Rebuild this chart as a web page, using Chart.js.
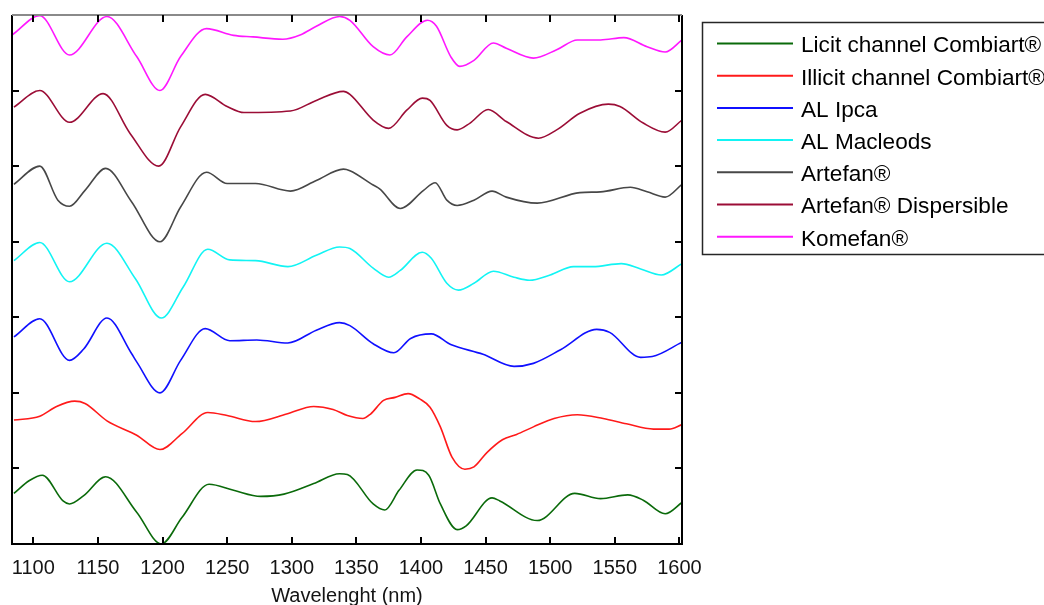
<!DOCTYPE html>
<html>
<head>
<meta charset="utf-8">
<script src="https://cdn.jsdelivr.net/npm/chart.js@4"></script>
<style>
html, body { margin: 0; padding: 0; background: #fff; }
</style>
</head>
<body>
<canvas id="spectra" width="1044" height="605"></canvas>
<script>
// NIR spectra (offset for display), one pair of arrays per sample
const wavelengthTicks = [1100, 1150, 1200, 1250, 1300, 1350, 1400, 1450, 1500, 1550, 1600];
const offsetTicks = [1, 2, 3, 4, 5, 6];

const licitWl = [1085, 1097, 1107, 1123, 1128, 1139, 1156, 1180, 1199, 1215, 1236, 1255, 1276, 1294, 1317, 1337, 1343, 1363, 1372, 1383, 1397, 1406, 1415, 1428, 1435, 1455, 1461, 1490, 1519, 1539, 1560, 1572, 1589, 1602];
const licitAbs = [0.67, 0.84, 0.91, 0.57, 0.53, 0.64, 0.89, 0.42, 0.00, 0.35, 0.79, 0.71, 0.63, 0.66, 0.80, 0.93, 0.92, 0.53, 0.45, 0.71, 0.98, 0.91, 0.53, 0.19, 0.24, 0.61, 0.57, 0.31, 0.67, 0.60, 0.65, 0.58, 0.40, 0.55];

const illicitWl = [1085, 1105, 1118, 1132, 1140, 1157, 1180, 1198, 1215, 1235, 1250, 1272, 1296, 1317, 1332, 1343, 1355, 1361, 1371, 1380, 1390, 1399, 1407, 1415, 1424, 1434, 1441, 1451, 1463, 1474, 1487, 1503, 1521, 1541, 1559, 1580, 1592, 1602];
const illicitAbs = [1.64, 1.69, 1.82, 1.89, 1.86, 1.63, 1.44, 1.25, 1.46, 1.74, 1.70, 1.62, 1.72, 1.82, 1.78, 1.70, 1.66, 1.72, 1.90, 1.94, 1.99, 1.92, 1.81, 1.55, 1.15, 0.99, 1.02, 1.21, 1.38, 1.45, 1.55, 1.66, 1.71, 1.66, 1.59, 1.52, 1.52, 1.58];

const ipcaWl = [1085, 1105, 1128, 1139, 1157, 1176, 1180, 1198, 1214, 1233, 1252, 1273, 1297, 1319, 1337, 1345, 1363, 1379, 1392, 1408, 1423, 1448, 1472, 1487, 1508, 1536, 1546, 1570, 1579, 1602];
const ipcaAbs = [2.74, 2.98, 2.43, 2.58, 2.99, 2.52, 2.41, 2.00, 2.43, 2.85, 2.69, 2.70, 2.66, 2.83, 2.93, 2.89, 2.65, 2.53, 2.72, 2.78, 2.64, 2.51, 2.35, 2.39, 2.57, 2.84, 2.80, 2.47, 2.48, 2.67];

const macleodsWl = [1085, 1105, 1128, 1157, 1179, 1199, 1216, 1235, 1252, 1272, 1297, 1319, 1337, 1345, 1363, 1375, 1384, 1401, 1408, 1420, 1429, 1441, 1456, 1472, 1484, 1500, 1518, 1533, 1555, 1570, 1586, 1602];
const macleodsAbs = [3.75, 3.99, 3.47, 3.98, 3.51, 2.99, 3.40, 3.90, 3.76, 3.75, 3.67, 3.82, 3.93, 3.91, 3.65, 3.53, 3.62, 3.86, 3.78, 3.45, 3.36, 3.45, 3.61, 3.53, 3.49, 3.56, 3.67, 3.67, 3.71, 3.64, 3.56, 3.71];

const artefanWl = [1085, 1105, 1119, 1128, 1140, 1156, 1176, 1198, 1214, 1234, 1250, 1272, 1299, 1319, 1340, 1345, 1363, 1368, 1384, 1402, 1411, 1420, 1428, 1441, 1455, 1466, 1490, 1523, 1539, 1562, 1575, 1589, 1602];
const artefanAbs = [4.76, 5.00, 4.55, 4.47, 4.68, 4.97, 4.53, 4.00, 4.46, 4.92, 4.77, 4.77, 4.67, 4.81, 4.96, 4.94, 4.75, 4.70, 4.44, 4.68, 4.78, 4.55, 4.48, 4.55, 4.67, 4.59, 4.51, 4.65, 4.66, 4.72, 4.66, 4.59, 4.76];

const dispersibleWl = [1085, 1105, 1128, 1154, 1175, 1197, 1214, 1233, 1250, 1263, 1299, 1319, 1340, 1345, 1363, 1375, 1389, 1401, 1407, 1420, 1428, 1438, 1452, 1466, 1491, 1505, 1523, 1545, 1554, 1572, 1589, 1602];
const dispersibleAbs = [5.78, 6.00, 5.58, 5.96, 5.43, 5.00, 5.52, 5.95, 5.79, 5.71, 5.73, 5.87, 5.99, 5.95, 5.61, 5.50, 5.74, 5.90, 5.87, 5.54, 5.48, 5.57, 5.75, 5.59, 5.37, 5.48, 5.70, 5.82, 5.79, 5.57, 5.45, 5.61];

const komefanWl = [1084, 1105, 1128, 1157, 1180, 1198, 1214, 1234, 1255, 1270, 1293, 1307, 1319, 1337, 1345, 1363, 1376, 1389, 1405, 1412, 1423, 1430, 1441, 1456, 1466, 1487, 1505, 1521, 1539, 1557, 1575, 1589, 1602];
const komefanAbs = [6.74, 6.99, 6.47, 6.98, 6.45, 6.00, 6.45, 6.82, 6.73, 6.71, 6.68, 6.74, 6.85, 6.98, 6.93, 6.58, 6.47, 6.71, 6.93, 6.85, 6.45, 6.32, 6.40, 6.63, 6.56, 6.43, 6.54, 6.67, 6.67, 6.70, 6.58, 6.51, 6.67];

const FONT = '"Liberation Sans", Arial, sans-serif';

function toPoints(wl, abs) {
    return wl.map(function(w, i) { return { x: w, y: abs[i] }; });
}

function spectrum(label, color, wl, abs) {
    return {
        label: label,
        data: toPoints(wl, abs),
        borderColor: color,
        borderWidth: 1.6,
        pointRadius: 0,
        cubicInterpolationMode: 'monotone',
        fill: false
    };
}

// frame + inward tick marks on all four sides
const frameTicks = {
    id: 'frameTicks',
    afterDatasetsDraw(chart) {
        var ctx = chart.ctx, a = chart.chartArea, x = chart.scales.x, y = chart.scales.y;
        var len = 7;
        ctx.save();
        ctx.lineWidth = 2;
        ctx.strokeStyle = '#000';
        ctx.beginPath();
        ctx.moveTo(a.left, a.top);
        ctx.lineTo(a.left, a.bottom);
        ctx.lineTo(a.right, a.bottom);
        ctx.lineTo(a.right, a.top);
        ctx.stroke();
        ctx.strokeStyle = '#8a8a8a';
        ctx.beginPath();
        ctx.moveTo(a.left, a.top);
        ctx.lineTo(a.right, a.top);
        ctx.stroke();
        ctx.strokeStyle = '#000';
        ctx.beginPath();
        wavelengthTicks.forEach(function(v) {
            var px = Math.round(x.getPixelForValue(v));
            ctx.moveTo(px, a.bottom); ctx.lineTo(px, a.bottom - len);
            ctx.moveTo(px, a.top); ctx.lineTo(px, a.top + len);
        });
        offsetTicks.forEach(function(v) {
            var py = Math.round(y.getPixelForValue(v));
            ctx.moveTo(a.left, py); ctx.lineTo(a.left + len, py);
            ctx.moveTo(a.right, py); ctx.lineTo(a.right - len, py);
        });
        ctx.stroke();
        ctx.restore();
    }
};

// boxed legend at the top right, running off the canvas edge like the source figure
const boxLegend = {
    id: 'boxLegend',
    afterDraw(chart) {
        var ctx = chart.ctx;
        ctx.save();
        ctx.fillStyle = '#fff';
        ctx.fillRect(702, 22, 400, 233);
        ctx.strokeStyle = '#262626';
        ctx.lineWidth = 1.5;
        ctx.strokeRect(702.5, 22.5, 400, 232);
        ctx.font = '22.6px ' + FONT;
        ctx.textBaseline = 'alphabetic';
        chart.data.datasets.forEach(function(ds, i) {
            var yc = 43.5 + i * 32.2;
            ctx.strokeStyle = ds.borderColor;
            ctx.lineWidth = 2;
            ctx.beginPath();
            ctx.moveTo(717, yc);
            ctx.lineTo(793, yc);
            ctx.stroke();
            ctx.fillStyle = '#000';
            ctx.fillText(ds.label, 801, yc + 8.8);
        });
        ctx.restore();
    }
};

new Chart(document.getElementById('spectra'), {
    type: 'line',
    data: {
        datasets: [
            spectrum('Licit channel Combiart®', '#0a6a0a', licitWl, licitAbs),
            spectrum('Illicit channel Combiart®', '#ff1a1a', illicitWl, illicitAbs),
            spectrum('AL Ipca', '#1010ff', ipcaWl, ipcaAbs),
            spectrum('AL Macleods', '#12f4f4', macleodsWl, macleodsAbs),
            spectrum('Artefan®', '#474747', artefanWl, artefanAbs),
            spectrum('Artefan® Dispersible', '#9b0d36', dispersibleWl, dispersibleAbs),
            spectrum('Komefan®', '#ff18ff', komefanWl, komefanAbs)
        ]
    },
    options: {
        responsive: false,
        animation: false,
        layout: { padding: { left: 12, top: 15, right: 362, bottom: 1 } },
        plugins: { legend: { display: false }, tooltip: { enabled: false } },
        scales: {
            x: {
                type: 'linear',
                min: 1083.5,
                max: 1602,
                afterBuildTicks: function(s) { s.ticks = wavelengthTicks.map(function(v) { return { value: v }; }); },
                // labels sit well inside the frame, so no extra side padding is needed
                afterFit: function(s) { s.paddingLeft = 0; s.paddingRight = 0; },
                grid: { display: false, drawTicks: false },
                border: { display: false },
                ticks: {
                    color: '#141414',
                    padding: 14,
                    autoSkip: false,
                    maxRotation: 0,
                    font: { family: FONT, size: 20, lineHeight: 1 },
                    callback: function(v) { return String(v); }
                },
                title: {
                    display: true,
                    text: 'Wavelenght (nm)',
                    color: '#141414',
                    font: { family: FONT, size: 20, lineHeight: 1 },
                    padding: { top: -6, bottom: -2 }
                }
            },
            y: { min: 0, max: 7, display: false }
        }
    },
    plugins: [frameTicks, boxLegend]
});
</script>
</body>
</html>
